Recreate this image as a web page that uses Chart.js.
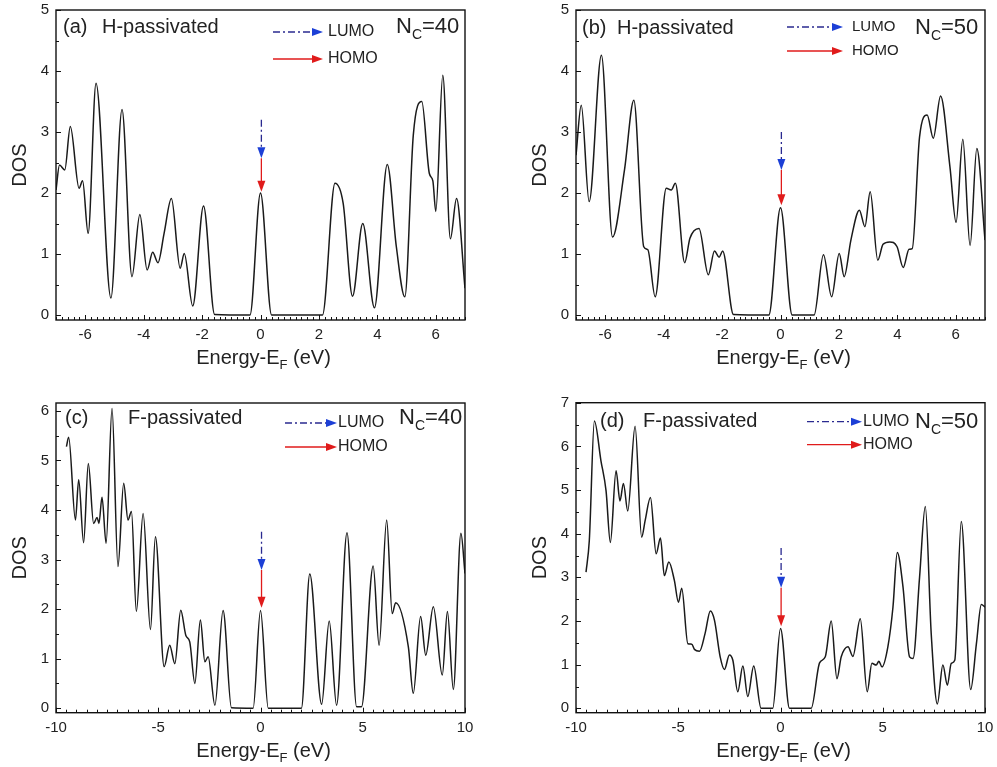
<!DOCTYPE html>
<html><head><meta charset="utf-8">
<script src="https://cdn.jsdelivr.net/npm/chart.js@4.4.1/dist/chart.umd.min.js"></script>
<style>
html,body{margin:0;padding:0;background:#fff;}
#wrap{position:relative;width:997px;height:767px;overflow:hidden;}
.panel{position:absolute;}
</style></head><body>
<div id="wrap">
<div class="panel" style="left:0;top:0;width:498px;height:380px"><canvas id="ca"></canvas></div>
<div class="panel" style="left:498px;top:0;width:499px;height:380px"><canvas id="cb"></canvas></div>
<div class="panel" style="left:0;top:380px;width:498px;height:387px"><canvas id="cc"></canvas></div>
<div class="panel" style="left:498px;top:380px;width:499px;height:387px"><canvas id="cd"></canvas></div>
</div>
<script>
// ---- data ----
const energyA = [-7.0,-6.88,-6.70,-6.51,-6.21,-6.09,-5.90,-5.63,-5.12,-4.74,-4.40,-4.13,-3.88,-3.69,-3.51,-3.30,-3.05,-2.75,-2.61,-2.32,-1.95,-1.57,-0.36,0,0.38,2.12,2.55,2.83,3.15,3.50,3.90,4.34,4.65,4.94,5.23,5.52,5.78,5.90,6.0,6.24,6.5,6.71,7.0];
const dosA    = [2.05,2.46,2.38,3.09,2.08,2.2,1.34,3.8,0.28,3.37,0.63,1.65,0.74,1.03,0.86,1.34,1.91,0.77,1.01,0.15,1.79,0.01,0,2.0,0,0,2.16,1.83,0.31,1.5,0.12,2.47,1.12,0.3,2.95,3.5,2.32,2.2,1.7,3.93,1.25,1.91,0.44];

const energyB = [-7.0,-6.82,-6.55,-6.13,-5.75,-5.34,-5.02,-4.68,-4.54,-4.29,-3.91,-3.74,-3.60,-3.28,-3.10,-2.79,-2.47,-2.26,-2.10,-1.98,-1.61,-0.40,0,0.40,1.15,1.47,1.75,2.01,2.18,2.41,2.70,2.89,3.07,3.33,3.51,3.74,3.99,4.20,4.40,4.51,4.76,5.02,5.23,5.48,5.80,6.01,6.24,6.49,6.72,7.0];
const dosB    = [2.62,3.44,1.86,4.26,1.28,2.38,3.52,1.12,1.07,0.30,2.08,2.05,2.16,0.86,1.26,1.42,0.66,1.05,0.95,1.05,0.01,0,1.76,0,0,0.99,0.3,1.01,0.63,1.23,1.72,1.45,2.02,0.9,1.16,1.2,1.12,0.78,1.08,1.09,2.92,3.28,2.9,3.59,2.43,1.52,2.88,1.14,2.73,1.23];

const energyC = [-9.49,-9.38,-9.05,-8.89,-8.65,-8.42,-8.16,-7.99,-7.9,-7.75,-7.55,-7.26,-6.97,-6.69,-6.48,-6.31,-6.07,-5.74,-5.38,-5.14,-4.71,-4.44,-4.19,-3.90,-3.65,-3.46,-3.21,-2.94,-2.72,-2.56,-2.23,-1.83,-1.42,-0.36,0,0.38,2.0,2.41,2.99,3.36,3.72,4.23,4.70,4.94,5.51,5.80,6.17,6.44,6.61,7.23,7.47,7.83,8.08,8.45,8.89,9.14,9.43,9.8,10.0];
const dosC    = [5.28,5.47,3.8,4.61,3.34,4.94,3.73,3.85,3.73,4.26,3.33,6.05,2.86,4.54,3.8,3.97,1.95,3.93,1.59,3.46,0.84,1.27,0.9,1.98,1.47,1.34,0.5,1.78,0.94,1.04,0.06,1.97,0.01,0,1.97,0,0,2.71,0.08,1.76,0.06,3.54,0.03,0.03,2.87,1.27,3.8,1.91,2.13,1.24,0.3,1.85,1.07,2.05,0.67,1.95,0.38,3.53,2.72];

const energyD = [-9.51,-9.35,-9.10,-8.78,-8.53,-8.32,-8.04,-7.85,-7.68,-7.47,-7.11,-6.79,-6.62,-6.36,-6.08,-5.87,-5.68,-5.46,-5.19,-4.99,-4.83,-4.53,-4.34,-4.21,-3.96,-3.69,-3.43,-3.23,-2.95,-2.74,-2.50,-2.33,-2.09,-1.84,-1.60,-1.31,-0.95,-0.38,0,0.44,1.5,1.91,2.19,2.48,2.76,2.97,3.30,3.54,3.90,4.24,4.47,4.68,4.81,4.96,5.25,5.50,5.71,5.99,6.31,6.48,6.80,7.08,7.37,7.67,7.94,8.16,8.35,8.52,8.84,9.30,9.58,9.82,10.0];
const dosD    = [3.12,3.84,6.58,5.67,4.98,3.80,5.44,4.75,5.15,4.52,6.46,3.92,4.30,4.83,3.54,3.9,3.04,3.35,2.93,2.43,2.75,1.48,1.47,1.35,1.31,1.71,2.23,2.02,1.18,0.89,1.22,1.1,0.38,0.97,0.27,0.97,0,0,1.83,0,0,1.04,1.18,2.0,0.68,1.18,1.41,1.19,2.05,0.38,1.03,0.99,1.08,0.95,1.41,2.32,3.57,2.78,1.18,1.14,3.0,4.62,1.71,0.1,0.99,0.53,1.03,1.1,4.28,0.43,1.48,2.38,2.32];

// tick labels
const xTicksH = [-6, -4, -2, 0, 2, 4, 6];
const xTicksF = [-10, -5, 0, 5, 10];
const yTicksAB = [0, 1, 2, 3, 4, 5];
const yTicksC = [0, 1, 2, 3, 4, 5, 6];
const yTicksD = [0, 1, 2, 3, 4, 5, 6, 7];

// HOMO / LUMO arrow values at E-EF (DOS units)
const arrowsA = {x:0.03, lumoTop:3.2,  lumoTip:2.57, homoTip:2.02};
const arrowsB = {x:0.03, lumoTop:3.0,  lumoTip:2.38, homoTip:1.80};
const arrowsC = {x:0.05, lumoTop:3.56, lumoTip:2.79, homoTip:2.03};
const arrowsD = {x:0.03, lumoTop:3.67, lumoTip:2.76, homoTip:1.88};

const FONT = "'Liberation Sans', Arial, Helvetica, sans-serif";
Chart.defaults.font.family = FONT;

function tri(ctx, x, y, dir, len, hw, color) {
  ctx.fillStyle = color;
  ctx.beginPath();
  if (dir === 'right') { ctx.moveTo(x, y); ctx.lineTo(x - len, y - hw); ctx.lineTo(x - len, y + hw); }
  else { ctx.moveTo(x, y); ctx.lineTo(x - hw, y - len); ctx.lineTo(x + hw, y - len); }
  ctx.closePath(); ctx.fill();
}

const decorPlugin = {
  id: 'decor',
  afterDraw(chart, args, o) {
    const ctx = chart.ctx, a = chart.chartArea, xs = chart.scales.x, ys = chart.scales.y;
    const L = a.left, T = a.top;
    ctx.save();
    // inward ticks
    ctx.strokeStyle = '#111'; ctx.lineWidth = 1;
    const n0 = Math.ceil(xs.min / o.xMinor - 1e-9), n1 = Math.floor(xs.max / o.xMinor + 1e-9);
    for (let n = n0; n <= n1; n++) {
      const v = n * o.xMinor, q = v / o.xMajor;
      const major = Math.abs(q - Math.round(q)) < 1e-6;
      const px = Math.round(xs.getPixelForValue(v)) + 0.5;
      ctx.beginPath(); ctx.moveTo(px, a.bottom); ctx.lineTo(px, a.bottom - (major ? 5 : 3)); ctx.stroke();
    }
    const m0 = Math.ceil(ys.min / 0.5 - 1e-9), m1 = Math.floor(ys.max / 0.5 + 1e-9);
    for (let m = m0; m <= m1; m++) {
      const v = m * 0.5, major = (m % 2 === 0);
      const py = Math.round(ys.getPixelForValue(v)) + 0.5;
      ctx.beginPath(); ctx.moveTo(L, py); ctx.lineTo(L + (major ? 5 : 3), py); ctx.stroke();
    }
    // frame
    ctx.strokeStyle = '#111'; ctx.lineWidth = 1.4;
    ctx.strokeRect(a.left, a.top, a.right - a.left, a.bottom - a.top);

    ctx.fillStyle = '#222';
    ctx.textBaseline = 'middle';
    // panel label + title
    ctx.font = '20px ' + FONT; ctx.textAlign = 'left';
    ctx.fillText(o.tag, L + o.tagX, T + o.tagY);
    ctx.fillText(o.title, L + o.titleX, T + o.tagY);
    // N_C
    ctx.font = '22px ' + FONT;
    let nx = L + o.ncX;
    ctx.fillText('N', nx, T + o.ncY); nx += ctx.measureText('N').width;
    ctx.font = '14px ' + FONT;
    ctx.fillText('C', nx, T + o.ncY + 8); nx += ctx.measureText('C').width;
    ctx.font = '22px ' + FONT;
    ctx.fillText('=' + o.nc, nx, T + o.ncY);
    // legend LUMO
    const blueLine = '#2a2a90', blueHead = '#1c3fd6', red = '#e01b1b';
    ctx.lineWidth = 1.3;
    ctx.strokeStyle = blueLine; ctx.setLineDash([7, 3, 2, 3]);
    ctx.beginPath(); ctx.moveTo(L + o.legX0, T + o.lumoY); ctx.lineTo(L + o.legTip - 9, T + o.lumoY); ctx.stroke();
    ctx.setLineDash([]);
    tri(ctx, L + o.legTip, T + o.lumoY, 'right', 11, 4, blueHead);
    ctx.strokeStyle = red;
    ctx.beginPath(); ctx.moveTo(L + o.legX0, T + o.homoY); ctx.lineTo(L + o.legTip - 9, T + o.homoY); ctx.stroke();
    tri(ctx, L + o.legTip, T + o.homoY, 'right', 11, 4, red);
    ctx.fillStyle = '#222'; ctx.font = o.legFont + 'px ' + FONT;
    ctx.fillText('LUMO', L + o.legTextX, T + o.lumoY);
    ctx.fillText('HOMO', L + o.legTextX, T + o.homoY);
    // vertical arrows at the Fermi level
    const ar = o.arrows;
    const ax = xs.getPixelForValue(ar.x);
    const yTop = ys.getPixelForValue(ar.lumoTop), yL = ys.getPixelForValue(ar.lumoTip), yH = ys.getPixelForValue(ar.homoTip);
    ctx.strokeStyle = blueLine; ctx.setLineDash([7, 3, 2, 3]);
    ctx.beginPath(); ctx.moveTo(ax, yTop); ctx.lineTo(ax, yL - 9); ctx.stroke();
    ctx.setLineDash([]);
    tri(ctx, ax, yL, 'down', 11, 4, blueHead);
    ctx.strokeStyle = red;
    ctx.beginPath(); ctx.moveTo(ax, yL); ctx.lineTo(ax, yH - 9); ctx.stroke();
    tri(ctx, ax, yH, 'down', 11, 4, red);
    // axis titles
    ctx.fillStyle = '#222';
    ctx.textBaseline = 'alphabetic';
    const s1 = 'Energy-E', s2 = 'F', s3 = ' (eV)';
    ctx.font = '20px ' + FONT; const w1 = ctx.measureText(s1).width, w3 = ctx.measureText(s3).width;
    ctx.font = '13px ' + FONT; const w2 = ctx.measureText(s2).width;
    let tx = (a.left + a.right) / 2 - (w1 + w2 + w3) / 2 + 3;
    const by = a.bottom + 44;
    ctx.font = '20px ' + FONT; ctx.fillText(s1, tx, by); tx += w1;
    ctx.font = '13px ' + FONT; ctx.fillText(s2, tx, by + 5); tx += w2;
    ctx.font = '20px ' + FONT; ctx.fillText(s3, tx, by);
    ctx.save();
    ctx.translate(L - 36, (a.top + a.bottom) / 2);
    ctx.rotate(-Math.PI / 2);
    ctx.textAlign = 'center'; ctx.textBaseline = 'middle';
    ctx.font = '20px ' + FONT;
    ctx.fillText('DOS', 0, 0);
    ctx.restore();
    ctx.restore();
  }
};

function makeChart(id, xs, ys, c) {
  return new Chart(document.getElementById(id), {
    type: 'line',
    data: { datasets: [{
      data: xs.map((x, i) => ({ x: x, y: ys[i] })),
      borderColor: '#1a1a1a', borderWidth: 1.5, pointRadius: 0,
      cubicInterpolationMode: 'monotone', fill: false
    }] },
    options: {
      responsive: true, maintainAspectRatio: false, animation: false,
      layout: { padding: { left: 0, top: c.padTop, right: c.padRight, bottom: 0 } },
      plugins: { legend: { display: false }, tooltip: { enabled: false }, decor: c.decor },
      scales: {
        x: {
          type: 'linear', min: c.xMin, max: c.xMax,
          afterBuildTicks: s => { s.ticks = c.xTicks.map(v => ({ value: v })); },
          ticks: { autoSkip: false, maxRotation: 0,
                   font: { size: 15 }, color: '#222', padding: 6 },
          grid: { display: false, drawTicks: false }, border: { display: false },
          afterFit: s => { s.height = c.xH; s.paddingLeft = 0; s.paddingRight = 0; }
        },
        y: {
          type: 'linear', min: c.yMin, max: c.yMax,
          afterBuildTicks: s => { s.ticks = c.yTicks.map(v => ({ value: v })); },
          ticks: { autoSkip: false, font: { size: 15 }, color: '#222', padding: 7 },
          grid: { display: false, drawTicks: false }, border: { display: false },
          afterFit: s => { s.width = c.yW; s.paddingTop = 0; s.paddingBottom = 0; }
        }
      }
    },
    plugins: [decorPlugin]
  });
}

makeChart('ca', energyA, dosA, {
  padTop: 10, padRight: 33, xH: 60, yW: 56, xMin: -7, xMax: 7, xTicks: xTicksH, yTicks: yTicksAB, yMin: -0.08, yMax: 5,
  decor: { tag: '(a)', title: 'H-passivated', nc: '40', tagX: 7, titleX: 46, tagY: 17,
           ncX: 340, ncY: 17, legX0: 217, legTip: 267, legTextX: 272, lumoY: 22, homoY: 49, legFont: 16,
           xMinor: 0.2, xMajor: 2, arrows: arrowsA }
});
makeChart('cb', energyB, dosB, {
  padTop: 10, padRight: 12, xH: 60, yW: 78, xMin: -7, xMax: 7, xTicks: xTicksH, yTicks: yTicksAB, yMin: -0.08, yMax: 5,
  decor: { tag: '(b)', title: 'H-passivated', nc: '50', tagX: 6, titleX: 41, tagY: 18,
           ncX: 339, ncY: 18, legX0: 211, legTip: 267, legTextX: 276, lumoY: 17, homoY: 41, legFont: 15,
           xMinor: 0.2, xMajor: 2, arrows: arrowsB }
});
makeChart('cc', energyC, dosC, {
  padTop: 23, padRight: 33, xH: 54.3, yW: 56, xMin: -10, xMax: 10, xTicks: xTicksF, yTicks: yTicksC, yMin: -0.09, yMax: 6.16,
  decor: { tag: '(c)', title: 'F-passivated', nc: '40', tagX: 9, titleX: 72, tagY: 15,
           ncX: 343, ncY: 15, legX0: 229, legTip: 281, legTextX: 282, lumoY: 20, homoY: 44, legFont: 16,
           xMinor: 0.5, xMajor: 5, arrows: arrowsC }
});
makeChart('cd', energyD, dosD, {
  padTop: 22.7, padRight: 12, xH: 54.3, yW: 78, xMin: -10, xMax: 10, xTicks: xTicksF, yTicks: yTicksD, yMin: -0.1, yMax: 7,
  decor: { tag: '(d)', title: 'F-passivated', nc: '50', tagX: 24, titleX: 67, tagY: 19,
           ncX: 339, ncY: 19, legX0: 231, legTip: 286, legTextX: 287, lumoY: 19, homoY: 42, legFont: 16,
           xMinor: 0.5, xMajor: 5, arrows: arrowsD }
});
</script>
</body></html>
